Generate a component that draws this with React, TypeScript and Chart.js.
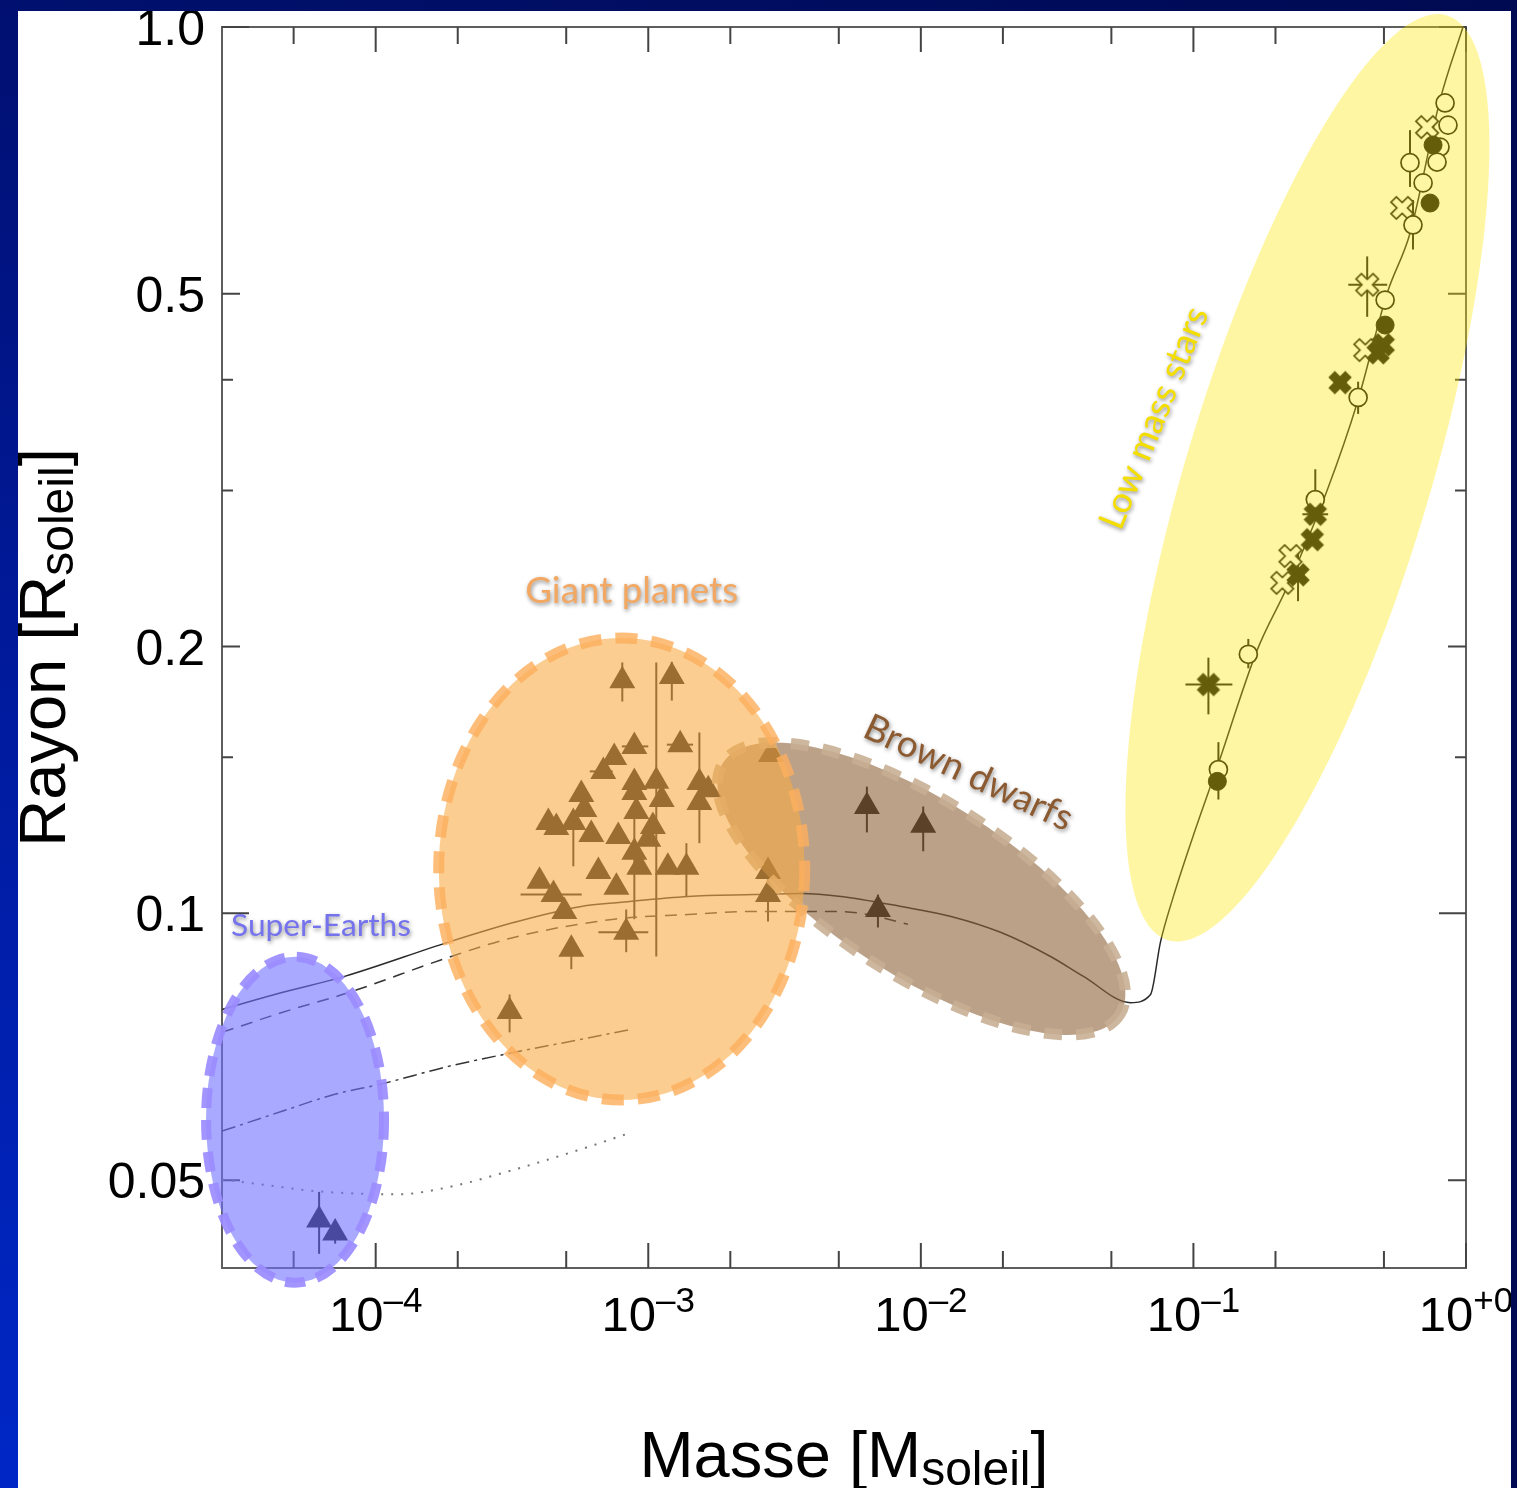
import { useEffect, useRef } from "react";
import { Chart, registerables } from "chart.js";

Chart.register(...registerables);

// ---------------- axes ----------------
const X_MIN = 2.73e-5;
const X_MAX = 1;
const Y_MIN = 0.0398;
const Y_MAX = 1.0;
const X_TICKS = [5e-5, 1e-4, 2e-4, 5e-4, 1e-3, 2e-3, 5e-3, 1e-2, 2e-2, 5e-2, 1e-1, 2e-1, 5e-1, 1];
const X_LABEL_VALUES = [1e-4, 1e-3, 1e-2, 1e-1, 1];
const X_LABEL_EXPONENTS = ["–4", "–3", "–2", "–1", "+0"];
const Y_TICKS = [0.05, 0.1, 0.15, 0.2, 0.3, 0.4, 0.5, 1.0];
const Y_LABEL_VALUES = [1.0, 0.5, 0.2, 0.1, 0.05];
const Y_LABEL_TEXTS = ["1.0", "0.5", "0.2", "0.1", "0.05"];

// ---------------- model curves ----------------
const SOLID_MASS = [2.73e-5, 4.53e-5, 7.69e-5, 1.85e-4, 3.23e-4, 5.68e-4, 7.96e-4, 1.40e-3, 2.45e-3, 3.63e-3, 5.09e-3, 8.45e-3, 1.29e-2, 1.96e-2, 2.99e-2, 3.95e-2, 5.88e-2, 6.96e-2, 7.57e-2, 8.38e-2, 0.1017, 0.1224, 0.1716, 0.221, 0.310, 0.399, 0.514, 0.624, 0.803, 0.975];
const SOLID_RADIUS = [0.0779, 0.0814, 0.0849, 0.0928, 0.0977, 0.1018, 0.1029, 0.1045, 0.1050, 0.1053, 0.1045, 0.1018, 0.0992, 0.0952, 0.0894, 0.0849, 0.0793, 0.0810, 0.0928, 0.1037, 0.1244, 0.1464, 0.1984, 0.2337, 0.3006, 0.3768, 0.501, 0.586, 0.827, 1.0];
const DASHED_MASS = [2.73e-5, 4.53e-5, 7.96e-5, 1.85e-4, 3.23e-4, 7.50e-4, 1.40e-3, 2.45e-3, 4.30e-3, 6.03e-3, 8.96e-3];
const DASHED_RADIUS = [0.0734, 0.0773, 0.0814, 0.0892, 0.0940, 0.0985, 0.0997, 0.1005, 0.1005, 0.1000, 0.0972];
const DASHDOT_MASS = [2.73e-5, 4.53e-5, 7.08e-5, 1.05e-4, 1.85e-4, 3.23e-4, 5.68e-4, 8.67e-4];
const DASHDOT_RADIUS = [0.0568, 0.0598, 0.0625, 0.0642, 0.0672, 0.0697, 0.0721, 0.0740];
const DOTTED_MASS = [2.73e-5, 4.53e-5, 5.98e-5, 1.21e-4, 1.85e-4, 3.23e-4, 5.68e-4, 8.67e-4];
const DOTTED_RADIUS = [0.0501, 0.0491, 0.0486, 0.0482, 0.0491, 0.0514, 0.0542, 0.0566];

// ---------------- super-Earths ----------------
const SUPER_EARTH_MASS = [6.2e-5, 7.1e-5];
const SUPER_EARTH_RADIUS = [0.0451, 0.0436];
const SUPER_EARTH_ERR_Y: [number, number, number][] = [[0, 0.0413, 0.0485], [1, 0.0424, 0.0445]];

// ---------------- giant planets ----------------
const GIANT_MASS = [8.03e-4, 1.22e-3, 8.89e-4, 1.31e-3, 7.50e-4, 6.84e-4, 8.89e-4, 1.07e-3, 1.54e-3, 1.66e-3, 5.68e-4, 8.89e-4, 1.12e-3, 1.54e-3, 5.83e-4, 9.04e-4, 4.30e-4, 4.60e-4, 5.31e-4, 6.18e-4, 7.76e-4, 1.04e-3, 1.00e-3, 8.89e-4, 9.27e-4, 6.56e-4, 1.18e-3, 1.38e-3, 3.99e-4, 4.49e-4, 4.92e-4, 7.64e-4, 8.30e-4, 5.22e-4, 3.10e-4, 2.82e-3, 2.75e-3, 2.75e-3];
const GIANT_RADIUS = [0.1830, 0.1850, 0.1543, 0.1550, 0.1499, 0.1446, 0.1405, 0.1409, 0.1405, 0.1379, 0.1362, 0.1369, 0.1344, 0.1334, 0.1310, 0.1303, 0.1266, 0.1250, 0.1266, 0.1227, 0.1221, 0.1253, 0.1212, 0.1172, 0.1127, 0.1115, 0.1127, 0.1127, 0.1087, 0.1050, 0.1005, 0.1070, 0.0952, 0.0911, 0.0775, 0.1511, 0.1115, 0.1050];
const GIANT_ERR_Y: [number, number, number][] = [[0, 0.1734, 0.1919], [1, 0.1738, 0.1922], [7, 0.0894, 0.1919], [8, 0.120, 0.160], [18, 0.113, 0.129], [23, 0.0985, 0.1278], [27, 0.1043, 0.120], [32, 0.0904, 0.101], [33, 0.0865, 0.0935], [34, 0.0734, 0.081], [37, 0.0979, 0.1092]];
const GIANT_ERR_X: [number, number, number][] = [[2, 8.0e-4, 1.0e-3], [3, 1.17e-3, 1.46e-3], [5, 6.1e-4, 7.4e-4], [29, 3.4e-4, 5.7e-4], [32, 6.56e-4, 1.0e-3]];

// ---------------- brown dwarfs ----------------
const BD_MASS = [6.34e-3, 1.02e-2, 6.96e-3];
const BD_RADIUS = [0.1320, 0.1257, 0.1010];
const BD_ERR_Y: [number, number, number][] = [[0, 0.1234, 0.139], [1, 0.1175, 0.132], [2, 0.0964, 0.105]];

// ---------------- low mass stars ----------------
const STAR_OPEN_CIRCLE_MASS = [0.838, 0.859, 0.803, 0.623, 0.783, 0.696, 0.639, 0.505, 0.402, 0.280, 0.159, 0.1235];
const STAR_OPEN_CIRCLE_RADIUS = [0.821, 0.775, 0.732, 0.703, 0.704, 0.667, 0.598, 0.492, 0.382, 0.293, 0.196, 0.1453];
const STAR_OPEN_CIRCLE_ERR_Y: [number, number, number][] = [[3, 0.660, 0.765], [6, 0.561, 0.638], [8, 0.366, 0.398], [9, 0.278, 0.317], [10, 0.189, 0.204], [11, 0.1344, 0.156]];
const STAR_FILLED_CIRCLE_MASS = [0.757, 0.738, 0.505, 0.1224];
const STAR_FILLED_CIRCLE_RADIUS = [0.736, 0.633, 0.461, 0.1409];
const STAR_FILLED_X_MASS = [0.476, 0.497, 0.345, 0.280, 0.273, 0.242, 0.1135];
const STAR_FILLED_X_RADIUS = [0.429, 0.438, 0.397, 0.282, 0.264, 0.241, 0.1812];
const STAR_FILLED_X_ERR_X: [number, number, number][] = [[3, 0.251, 0.312], [6, 0.0935, 0.139]];
const STAR_FILLED_X_ERR_Y: [number, number, number][] = [[5, 0.225, 0.258], [6, 0.1677, 0.1943]];
const STAR_OPEN_X_MASS = [0.720, 0.583, 0.434, 0.427, 0.227, 0.212];
const STAR_OPEN_X_RADIUS = [0.771, 0.625, 0.512, 0.432, 0.253, 0.236];
const STAR_OPEN_X_ERR_X: [number, number, number][] = [[2, 0.370, 0.514]];
const STAR_OPEN_X_ERR_Y: [number, number, number][] = [[2, 0.471, 0.551]];

// ---------------- highlighted regions & labels ----------------
const REGION_NAMES = ["Low mass stars", "Brown dwarfs", "Giant planets", "Super-Earths"];
const REGION_CENTER_MASS = [0.262, 1.005e-2, 7.99e-4, 5.06e-5];
const REGION_CENTER_RADIUS = [0.310, 0.1066, 0.1122, 0.0585];
const LABEL_MASS = [7.18e-2, 1.494e-2, 8.69e-4, 6.30e-5];
const LABEL_RADIUS = [0.3621, 0.1440, 0.2310, 0.0968];

// styles for the regions (pixel geometry, colours)
const REGION_STYLES = [
  { rx: 483, ry: 122, rot: -73.2, fill: "rgba(255,230,0,0.36)", stroke: "", dash: [] as number[], lw: 0 },
  { rx: 235, ry: 88, rot: 32.4, fill: "rgba(140,98,56,0.6)", stroke: "rgba(200,175,148,0.9)", dash: [18, 14], lw: 11 },
  { rx: 183, ry: 231, rot: 0, fill: "rgba(248,172,70,0.6)", stroke: "rgba(253,176,95,0.82)", dash: [22, 14], lw: 11 },
  { rx: 89, ry: 163, rot: 0, fill: "rgba(112,112,255,0.6)", stroke: "rgba(155,140,255,0.92)", dash: [20, 12], lw: 10 },
];
const LABEL_STYLES = [
  { color: "#f4de00", rot: -68, width: 236 },
  { color: "#8c5a30", rot: 25, width: 226 },
  { color: "#f2a862", rot: 0, width: 213 },
  { color: "#7572ee", rot: 0, width: 180 },
];

const pts = (xs: number[], ys: number[]) => xs.map((x, i) => ({ x, y: ys[i] }));

function makeCross(filled: boolean): HTMLCanvasElement {
  const size = 30;
  const c = document.createElement("canvas");
  c.width = size;
  c.height = size;
  const ctx = c.getContext("2d")!;
  ctx.translate(size / 2, size / 2);
  ctx.rotate(Math.PI / 4);
  const L = filled ? 12 : 12;
  const t = filled ? 4.6 : 3.8;
  const poly = [[-t, -L], [t, -L], [t, -t], [L, -t], [L, t], [t, t], [t, L], [-t, L], [-t, t], [-L, t], [-L, -t], [-t, -t]];
  ctx.beginPath();
  poly.forEach(([x, y], i) => (i ? ctx.lineTo(x, y) : ctx.moveTo(x, y)));
  ctx.closePath();
  if (filled) {
    ctx.fillStyle = "#111";
    ctx.fill();
  } else {
    ctx.fillStyle = "#fff";
    ctx.fill();
    ctx.lineWidth = 1.7;
    ctx.strokeStyle = "#111";
    ctx.stroke();
  }
  return c;
}

const AXIS_FONT = '"Liberation Sans", Arial, Helvetica, sans-serif';
const LABEL_FONT = 'Lato, "Open Sans", sans-serif';

const axesPlugin = {
  id: "axesPlugin",
  beforeDatasetsDraw(chart: any) {
    const { ctx, chartArea } = chart;
    const xs = chart.scales.x;
    const ys = chart.scales.y;
    const { left, right, top, bottom } = chartArea;
    ctx.save();
    ctx.strokeStyle = "#5e5e5e";
    ctx.lineWidth = 2;
    ctx.strokeRect(left, top, right - left, bottom - top);
    ctx.strokeStyle = "#444";
    X_TICKS.forEach((v) => {
      const px = xs.getPixelForValue(v);
      const major = Math.abs(Math.log10(v) - Math.round(Math.log10(v))) < 1e-6;
      const len = major ? 25 : 17;
      ctx.beginPath();
      ctx.moveTo(px, bottom);
      ctx.lineTo(px, bottom - len);
      ctx.moveTo(px, top);
      ctx.lineTo(px, top + len);
      ctx.stroke();
    });
    Y_TICKS.forEach((v) => {
      const py = ys.getPixelForValue(v);
      const lg = Math.log10(v);
      const mant = Math.round(v / Math.pow(10, Math.floor(lg + 1e-9)) * 100) / 100;
      const len = mant === 1 ? 27 : mant === 5 || mant === 2 ? 18 : 11;
      ctx.beginPath();
      ctx.moveTo(left, py);
      ctx.lineTo(left + len, py);
      ctx.moveTo(right, py);
      ctx.lineTo(right - len, py);
      ctx.stroke();
    });
    ctx.fillStyle = "#000";
    ctx.font = `50px ${AXIS_FONT}`;
    ctx.textAlign = "right";
    ctx.textBaseline = "alphabetic";
    Y_LABEL_VALUES.forEach((v, i) => {
      const py = ys.getPixelForValue(v);
      ctx.fillText(Y_LABEL_TEXTS[i], left - 17, py + 18);
    });
    ctx.textAlign = "left";
    X_LABEL_VALUES.forEach((v, i) => {
      const px = xs.getPixelForValue(v);
      ctx.font = `49px ${AXIS_FONT}`;
      const wb = ctx.measureText("10").width;
      ctx.font = `35px ${AXIS_FONT}`;
      const we = ctx.measureText(X_LABEL_EXPONENTS[i]).width;
      const x0 = px - (wb + we) / 2;
      const base = bottom + 63;
      ctx.font = `49px ${AXIS_FONT}`;
      ctx.fillText("10", x0, base);
      ctx.font = `35px ${AXIS_FONT}`;
      ctx.fillText(X_LABEL_EXPONENTS[i], x0 + wb, base - 19);
    });
    const drawTitle = (main: string, sub: string, cx: number, cy: number, rot: number) => {
      ctx.save();
      ctx.translate(cx, cy);
      ctx.rotate(rot);
      ctx.font = `65px ${AXIS_FONT}`;
      const w1 = ctx.measureText(main).width;
      const w3 = ctx.measureText("]").width;
      ctx.font = `48px ${AXIS_FONT}`;
      const w2 = ctx.measureText(sub).width;
      let x = -(w1 + w2 + w3) / 2;
      ctx.font = `65px ${AXIS_FONT}`;
      ctx.fillText(main, x, 0);
      x += w1;
      ctx.font = `48px ${AXIS_FONT}`;
      ctx.fillText(sub, x, 8);
      x += w2;
      ctx.font = `65px ${AXIS_FONT}`;
      ctx.fillText("]", x, 0);
      ctx.restore();
    };
    drawTitle("Masse [M", "soleil", (left + right) / 2, 1466, 0);
    drawTitle("Rayon [R", "soleil", 47, (top + bottom) / 2, -Math.PI / 2);
    ctx.restore();
  },
};

const errorBarPlugin = {
  id: "errorBarPlugin",
  beforeDatasetsDraw(chart: any) {
    const { ctx } = chart;
    const xs = chart.scales.x;
    const ys = chart.scales.y;
    ctx.save();
    ctx.strokeStyle = "#1a1a1a";
    ctx.lineWidth = 2;
    chart.data.datasets.forEach((ds: any, di: number) => {
      const meta = chart.getDatasetMeta(di);
      (ds.errY || []).forEach(([i, lo, hi]: number[]) => {
        const el = meta.data[i];
        if (!el) return;
        ctx.beginPath();
        ctx.moveTo(el.x, ys.getPixelForValue(lo));
        ctx.lineTo(el.x, ys.getPixelForValue(hi));
        ctx.stroke();
      });
      (ds.errX || []).forEach(([i, lo, hi]: number[]) => {
        const el = meta.data[i];
        if (!el) return;
        ctx.beginPath();
        ctx.moveTo(xs.getPixelForValue(lo), el.y);
        ctx.lineTo(xs.getPixelForValue(hi), el.y);
        ctx.stroke();
      });
    });
    ctx.restore();
  },
};

const overlayPlugin = {
  id: "overlayPlugin",
  afterDatasetsDraw(chart: any) {
    const { ctx } = chart;
    const xs = chart.scales.x;
    const ys = chart.scales.y;
    ctx.save();
    REGION_NAMES.forEach((_, i) => {
      const st = REGION_STYLES[i];
      const cx = xs.getPixelForValue(REGION_CENTER_MASS[i]);
      const cy = ys.getPixelForValue(REGION_CENTER_RADIUS[i]);
      ctx.beginPath();
      ctx.ellipse(cx, cy, st.rx, st.ry, (st.rot * Math.PI) / 180, 0, Math.PI * 2);
      ctx.fillStyle = st.fill;
      ctx.fill();
      if (st.stroke) {
        ctx.setLineDash(st.dash);
        ctx.lineWidth = st.lw;
        ctx.strokeStyle = st.stroke;
        ctx.stroke();
        ctx.setLineDash([]);
      }
    });
    REGION_NAMES.forEach((name, i) => {
      const st = LABEL_STYLES[i];
      const cx = xs.getPixelForValue(LABEL_MASS[i]);
      const cy = ys.getPixelForValue(LABEL_RADIUS[i]);
      ctx.save();
      ctx.translate(cx, cy);
      ctx.rotate((st.rot * Math.PI) / 180);
      ctx.font = `40px ${LABEL_FONT}`;
      const w = ctx.measureText(name).width;
      const size = (40 * st.width) / w;
      ctx.font = `${size}px ${LABEL_FONT}`;
      ctx.textAlign = "center";
      ctx.textBaseline = "middle";
      ctx.shadowColor = "rgba(0,0,0,0.45)";
      ctx.shadowBlur = 4;
      ctx.shadowOffsetX = 1;
      ctx.shadowOffsetY = 2;
      ctx.fillStyle = st.color;
      ctx.fillText(name, 0, 0);
      ctx.restore();
    });
    ctx.restore();
  },
};

export default function App() {
  const ref = useRef<HTMLCanvasElement | null>(null);
  useEffect(() => {
    if (!ref.current) return;
    const openX = makeCross(false);
    const filledX = makeCross(true);
    const lineBase = { showLine: true, pointRadius: 0, fill: false, cubicInterpolationMode: "monotone" as const, order: 2 };
    const tri = { pointStyle: "triangle", pointRadius: 15, backgroundColor: "#111", borderWidth: 0, order: 1 };
    const chart = new Chart(ref.current, {
      type: "scatter",
      data: {
        datasets: [
          { ...lineBase, label: "solid", data: pts(SOLID_MASS, SOLID_RADIUS), borderColor: "#2a2a2a", borderWidth: 1.5 },
          { ...lineBase, label: "dashed", data: pts(DASHED_MASS, DASHED_RADIUS), borderColor: "#333", borderWidth: 1.5, borderDash: [12, 8] },
          { ...lineBase, label: "dash-dot", data: pts(DASHDOT_MASS, DASHDOT_RADIUS), borderColor: "#333", borderWidth: 1.5, borderDash: [14, 5, 3, 5] },
          { ...lineBase, label: "dotted", data: pts(DOTTED_MASS, DOTTED_RADIUS), borderColor: "#777", borderWidth: 2, borderDash: [2, 8] },
          { ...tri, label: "Super-Earths", data: pts(SUPER_EARTH_MASS, SUPER_EARTH_RADIUS), errY: SUPER_EARTH_ERR_Y } as any,
          { ...tri, label: "Giant planets", data: pts(GIANT_MASS, GIANT_RADIUS), errY: GIANT_ERR_Y, errX: GIANT_ERR_X } as any,
          { ...tri, label: "Brown dwarfs", data: pts(BD_MASS, BD_RADIUS), errY: BD_ERR_Y } as any,
          { label: "Open circles", data: pts(STAR_OPEN_CIRCLE_MASS, STAR_OPEN_CIRCLE_RADIUS), pointStyle: "circle", pointRadius: 9, backgroundColor: "#fff", borderColor: "#111", borderWidth: 1.7, errY: STAR_OPEN_CIRCLE_ERR_Y, order: 1 } as any,
          { label: "Open crosses", data: pts(STAR_OPEN_X_MASS, STAR_OPEN_X_RADIUS), pointStyle: openX, pointRadius: 12, errX: STAR_OPEN_X_ERR_X, errY: STAR_OPEN_X_ERR_Y, order: 1 } as any,
          { label: "Filled circles", data: pts(STAR_FILLED_CIRCLE_MASS, STAR_FILLED_CIRCLE_RADIUS), pointStyle: "circle", pointRadius: 9, backgroundColor: "#111", borderColor: "#111", borderWidth: 1, order: 0 } as any,
          { label: "Filled crosses", data: pts(STAR_FILLED_X_MASS, STAR_FILLED_X_RADIUS), pointStyle: filledX, pointRadius: 12, errX: STAR_FILLED_X_ERR_X, errY: STAR_FILLED_X_ERR_Y, order: 0 } as any,
        ],
      },
      options: {
        animation: false,
        responsive: false,
        devicePixelRatio: 1,
        events: [],
        layout: { padding: { left: 204, top: 16, right: 45, bottom: 220 } },
        plugins: { legend: { display: false }, tooltip: { enabled: false } },
        scales: {
          x: { type: "logarithmic", min: X_MIN, max: X_MAX, display: false },
          y: { type: "logarithmic", min: Y_MIN, max: Y_MAX, display: false },
        },
      },
      plugins: [axesPlugin, errorBarPlugin, overlayPlugin],
    });
    return () => chart.destroy();
  }, []);

  return (
    <div style={{ position: "fixed", left: 0, top: 0, width: 1517, height: 1488, overflow: "hidden", background: "linear-gradient(to right, #00106e, #000a52)" }}>
      <div style={{ position: "absolute", left: 0, top: 0, width: 18, height: 1488, background: "linear-gradient(to bottom, #000f70, #001a9c 45%, #0027c6)" }} />
      <div style={{ position: "absolute", left: 18, top: 11, width: 1493, height: 1477, background: "#fff" }}>
        <canvas ref={ref} width={1493} height={1477} style={{ display: "block", width: 1493, height: 1477 }} />
      </div>
    </div>
  );
}
